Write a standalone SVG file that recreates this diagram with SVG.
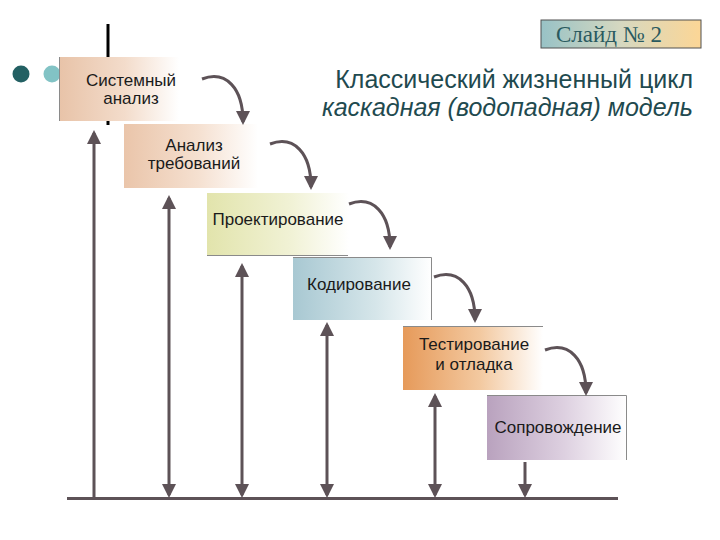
<svg xmlns="http://www.w3.org/2000/svg" width="720" height="540" viewBox="0 0 720 540">
<style>
.lbl{font-family:"Liberation Sans",Arial,sans-serif;font-size:17px;fill:#1a1a1a;text-anchor:middle}
.title{font-family:"Liberation Sans",Arial,sans-serif;font-size:25px;fill:#1f4a4f;text-anchor:end}
.conn{stroke:#5d5257;stroke-width:3;fill:none}
.edge{stroke:#8a8a8a;stroke-width:1;fill:none}
</style>
<defs>
<marker id="ah" markerUnits="userSpaceOnUse" markerWidth="16" markerHeight="14" refX="11" refY="7" orient="auto">
<path d="M0,0 L14,7 L0,14 z" fill="#5d5257"/>
</marker>
<marker id="ahs" markerUnits="userSpaceOnUse" markerWidth="16" markerHeight="14" refX="11" refY="7" orient="auto-start-reverse">
<path d="M0,0 L14,7 L0,14 z" fill="#5d5257"/>
</marker>
<linearGradient id="g1" x1="0" y1="0" x2="1" y2="0"><stop offset="0" stop-color="#e8c3a8"/><stop offset="0.55" stop-color="#f3dccb"/><stop offset="1" stop-color="#ffffff"/></linearGradient>
<linearGradient id="g2" x1="0" y1="0" x2="1" y2="0"><stop offset="0" stop-color="#eac5aa"/><stop offset="0.55" stop-color="#f5e0d0"/><stop offset="1" stop-color="#ffffff"/></linearGradient>
<linearGradient id="g3" x1="0" y1="0" x2="1" y2="0"><stop offset="0" stop-color="#e2e4ac"/><stop offset="0.6" stop-color="#f1f2d6"/><stop offset="1" stop-color="#ffffff"/></linearGradient>
<linearGradient id="g4" x1="0" y1="0" x2="1" y2="0"><stop offset="0" stop-color="#a8c8d2"/><stop offset="0.6" stop-color="#d6e6ea"/><stop offset="1" stop-color="#ffffff"/></linearGradient>
<linearGradient id="g5" x1="0" y1="0" x2="1" y2="0"><stop offset="0" stop-color="#e69a5a"/><stop offset="0.55" stop-color="#f3c9a0"/><stop offset="1" stop-color="#ffffff"/></linearGradient>
<linearGradient id="g6" x1="0" y1="0" x2="1" y2="0"><stop offset="0" stop-color="#b9a2be"/><stop offset="0.55" stop-color="#ddd0e0"/><stop offset="1" stop-color="#ffffff"/></linearGradient>
<linearGradient id="gs" x1="0" y1="0" x2="1" y2="0"><stop offset="0" stop-color="#98c2c6"/><stop offset="0.5" stop-color="#d6d8c0"/><stop offset="1" stop-color="#fcd696"/></linearGradient>
</defs>

<g id="decor">
<line x1="108" y1="24" x2="108" y2="125" stroke="#000" stroke-width="3"/>
<circle cx="21" cy="74" r="8.5" fill="#236063"/>
<circle cx="52" cy="74" r="8.5" fill="#82c3c5"/>
</g>

<g id="slide-no">
<rect x="541" y="20" width="160" height="28" fill="url(#gs)" stroke="#505050" stroke-width="1"/>
<text x="609" y="42" font-family="'Liberation Serif','Times New Roman',serif" font-size="23" fill="#2a5a5f" text-anchor="middle">Слайд № 2</text>
</g>

<g id="title">
<text class="title" x="693" y="88">Классический жизненный цикл</text>
<text class="title" x="693" y="116" font-style="italic">каскадная (водопадная) модель</text>
</g>

<g id="n1">
<rect x="59" y="57" width="120" height="64" fill="url(#g1)"/>
<line class="edge" x1="59.5" y1="57" x2="59.5" y2="121" stroke="#a88a78"/>
<text class="lbl" x="131" y="86">Системный</text>
<text class="lbl" x="131" y="104">анализ</text>
</g>

<g id="n2">
<rect x="124" y="124" width="134" height="64" fill="url(#g2)"/>
<text class="lbl" x="194" y="151">Анализ</text>
<text class="lbl" x="194" y="169">требований</text>
</g>

<g id="n3">
<rect x="207" y="193" width="142" height="62" fill="url(#g3)"/>
<line class="edge" x1="207" y1="255.5" x2="348" y2="255.5"/>
<text class="lbl" x="278" y="225">Проектирование</text>
</g>

<g id="n4">
<rect x="293" y="257" width="139" height="63" fill="url(#g4)"/>
<polyline class="edge" points="293,257.5 431.5,257.5 431.5,320"/>
<text class="lbl" x="359" y="290">Кодирование</text>
</g>

<g id="n5">
<rect x="403" y="327" width="140" height="63" fill="url(#g5)"/>
<line class="edge" x1="403" y1="326.5" x2="543" y2="326.5"/>
<text class="lbl" x="474" y="350">Тестирование</text>
<text class="lbl" x="474" y="370">и отладка</text>
</g>

<g id="n6">
<rect x="487" y="395" width="140" height="65" fill="url(#g6)"/>
<polyline class="edge" points="487,395.5 626.5,395.5 626.5,460"/>
<text class="lbl" x="558" y="433">Сопровождение</text>
</g>

<g id="connectors">
<path class="conn" d="M202,79 C226,70 243,88 243,122" marker-end="url(#ah)"/>
<path class="conn" d="M270,144 C294,135 311,153 311,187" marker-end="url(#ah)"/>
<path class="conn" d="M349,204 C373,195 390,213 390,247" marker-end="url(#ah)"/>
<path class="conn" d="M434,277 C458,268 475,286 475,320" marker-end="url(#ah)"/>
<path class="conn" d="M545,350 C569,341 586,359 586,393" marker-end="url(#ah)"/>

<line class="conn" x1="67" y1="498.5" x2="618" y2="498.5"/>
<line class="conn" x1="94" y1="499" x2="94" y2="133" marker-end="url(#ah)"/>
<line class="conn" x1="169" y1="198" x2="169" y2="495" marker-start="url(#ahs)" marker-end="url(#ahs)"/>
<line class="conn" x1="242" y1="266" x2="242" y2="495" marker-start="url(#ahs)" marker-end="url(#ahs)"/>
<line class="conn" x1="327" y1="325" x2="327" y2="495" marker-start="url(#ahs)" marker-end="url(#ahs)"/>
<line class="conn" x1="435" y1="396" x2="435" y2="495" marker-start="url(#ahs)" marker-end="url(#ahs)"/>
<line class="conn" x1="525" y1="462" x2="525" y2="495" marker-end="url(#ah)"/>
</g>
</svg>
